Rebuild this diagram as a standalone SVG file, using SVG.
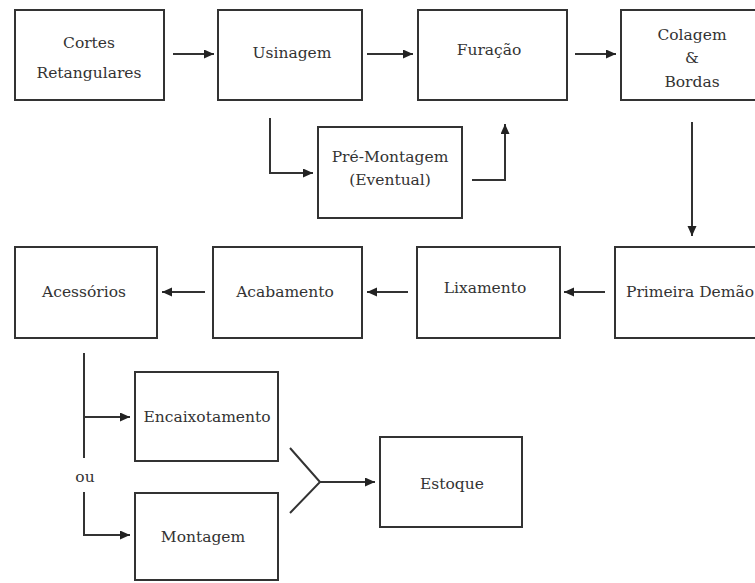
<svg xmlns="http://www.w3.org/2000/svg" width="755" height="583" viewBox="0 0 755 583">
<style>
.box{fill:#fff;stroke:#333;stroke-width:2}
.ln{fill:none;stroke:#333;stroke-width:2}
text{font-family:"DejaVu Serif","Liberation Serif",serif;font-size:15.5px;fill:#333;text-anchor:middle;dominant-baseline:central}
</style>
<defs>
<marker id="ah" markerUnits="userSpaceOnUse" markerWidth="11" markerHeight="10" refX="10" refY="4.5" orient="auto">
<path d="M0,0 L10,4.5 L0,9 z" fill="#222"/>
</marker>
</defs>
<rect width="755" height="583" fill="#fff"/>
<g id="connectors">
<path class="ln" d="M173,54 H214" marker-end="url(#ah)"/>
<path class="ln" d="M367,54 H413" marker-end="url(#ah)"/>
<path class="ln" d="M575,54 H616" marker-end="url(#ah)"/>
<path class="ln" d="M270,118 V173 H313" marker-end="url(#ah)"/>
<path class="ln" d="M472,180 H505 V124" marker-end="url(#ah)"/>
<path class="ln" d="M692,122 V236" marker-end="url(#ah)"/>
<path class="ln" d="M605,292 H564" marker-end="url(#ah)"/>
<path class="ln" d="M408,292 H367" marker-end="url(#ah)"/>
<path class="ln" d="M205,292 H162" marker-end="url(#ah)"/>
<path class="ln" d="M84,353 V458"/>
<path class="ln" d="M84,417 H130" marker-end="url(#ah)"/>
<path class="ln" d="M84,492 V535 H130" marker-end="url(#ah)"/>
<path class="ln" d="M290,448 L320,482 L290,513"/>
<path class="ln" d="M320,482 H375" marker-end="url(#ah)"/>
<text x="85" y="477">ou</text>
</g>
<g id="cortes"><rect class="box" x="15" y="10" width="149" height="90"/><text x="89" y="43">Cortes</text><text x="89" y="73">Retangulares</text></g>
<g id="usinagem"><rect class="box" x="218" y="10" width="144" height="90"/><text x="292" y="53">Usinagem</text></g>
<g id="furacao"><rect class="box" x="418" y="10" width="149" height="90"/><text x="489" y="50">Furação</text></g>
<g id="colagem"><rect class="box" x="621" y="10" width="140" height="90"/><text x="692" y="35">Colagem</text><text x="692" y="58">&amp;</text><text x="692" y="82">Bordas</text></g>
<g id="premontagem"><rect class="box" x="318" y="127" width="144" height="91"/><text x="390" y="157">Pré-Montagem</text><text x="390" y="180">(Eventual)</text></g>
<g id="acessorios"><rect class="box" x="15" y="247" width="142" height="91"/><text x="84" y="292">Acessórios</text></g>
<g id="acabamento"><rect class="box" x="213" y="247" width="149" height="91"/><text x="285" y="292">Acabamento</text></g>
<g id="lixamento"><rect class="box" x="417" y="247" width="143" height="91"/><text x="485" y="288">Lixamento</text></g>
<g id="primeira"><rect class="box" x="615" y="247" width="145" height="91"/><text x="690" y="292">Primeira Demão</text></g>
<g id="encaixotamento"><rect class="box" x="135" y="372" width="143" height="89"/><text x="207" y="417">Encaixotamento</text></g>
<g id="montagem"><rect class="box" x="135" y="493" width="143" height="87"/><text x="203" y="537">Montagem</text></g>
<g id="estoque"><rect class="box" x="380" y="437" width="142" height="90"/><text x="452" y="484">Estoque</text></g>
</svg>
